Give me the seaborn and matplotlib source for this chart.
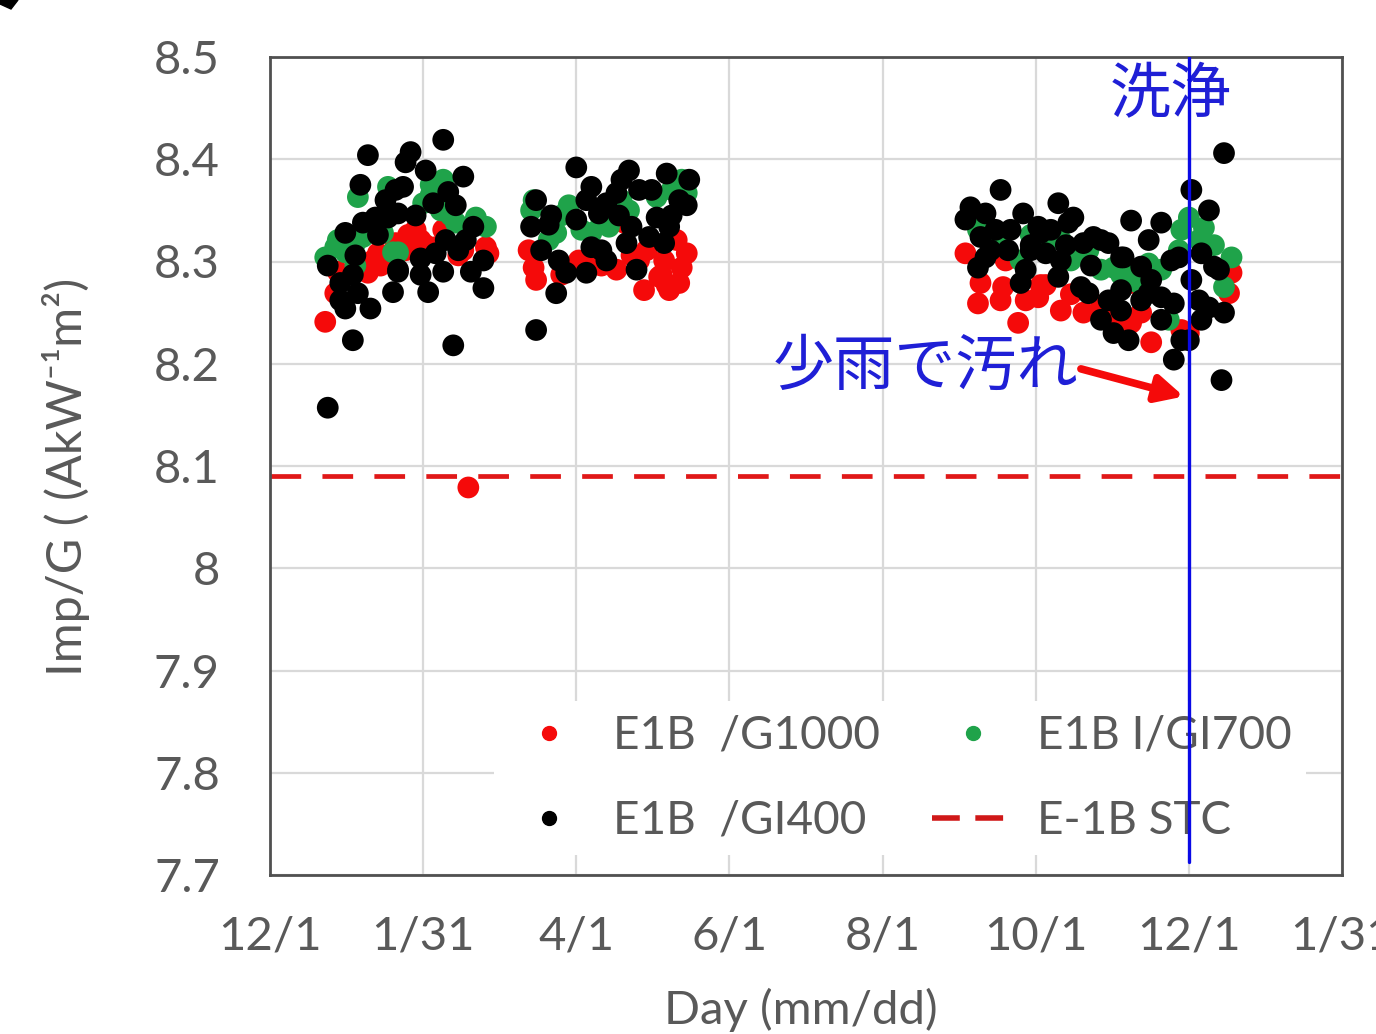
import pandas as pd
import numpy as np
import matplotlib
matplotlib.use("Agg")
import matplotlib.pyplot as plt
import seaborn as sns
from matplotlib.lines import Line2D

# day offsets are counted from 2019/12/1
start = pd.Timestamp("2019-12-01")

red_day = [22, 26, 27, 41, 39, 43, 55, 58, 69, 66, 77, 86, 87, 54, 79, 36, 50, 62, 75, 60, 44,
           105, 106, 123, 129, 103, 141, 150, 162, 166, 157, 138, 147, 149, 163, 155, 164, 116, 132, 159,
           156, 144, 158,
           277, 283, 282, 292, 301, 306, 298, 315, 293, 383, 382, 343, 324, 343, 351, 363, 366, 347, 309, 331,
           307, 319, 291, 335]
red_val = [8.241, 8.269, 8.290, 8.301, 8.289, 8.308, 8.326, 8.331, 8.331, 8.314, 8.311, 8.314, 8.308, 8.311, 8.079, 8.296, 8.318, 8.316, 8.306, 8.321, 8.296,
           8.294, 8.282, 8.301, 8.298, 8.311, 8.338, 8.311, 8.321, 8.308, 8.301, 8.292, 8.301, 8.272, 8.279, 8.285, 8.294, 8.287, 8.296, 8.272,
           8.287, 8.306, 8.277,
           8.308, 8.279, 8.259, 8.275, 8.262, 8.265, 8.240, 8.252, 8.301, 8.289, 8.269, 8.279, 8.250, 8.240, 8.221, 8.233, 8.230, 8.250, 8.277, 8.257,
           8.277, 8.268, 8.262, 8.243]

green_day = [35, 47, 26, 34, 37, 49, 22, 34, 45, 69, 61, 82, 86, 51, 74, 30, 68, 64, 27, 64, 72, 30,
             105, 119, 114, 111, 128, 164, 154, 143, 135, 166, 124, 132, 104, 116, 140, 160,
             282, 315, 299, 322, 366, 372, 370, 362, 350, 336, 331, 326, 355, 383, 380, 358, 346, 307, 291, 339,
             303, 319, 343, 376, 363, 285]
green_val = [8.363, 8.373, 8.314, 8.318, 8.324, 8.309, 8.304, 8.296, 8.328, 8.380, 8.357, 8.343, 8.334, 8.309, 8.338, 8.309, 8.350, 8.365, 8.321, 8.375, 8.345, 8.326,
             8.360, 8.355, 8.328, 8.321, 8.328, 8.380, 8.363, 8.350, 8.334, 8.367, 8.331, 8.340, 8.350, 8.345, 8.360, 8.370,
             8.331, 8.321, 8.301, 8.311, 8.343, 8.333, 8.321, 8.311, 8.298, 8.294, 8.292, 8.311, 8.292, 8.304, 8.275, 8.243, 8.279, 8.316, 8.321, 8.287,
             8.326, 8.301, 8.292, 8.316, 8.331, 8.336]

black_day = [39, 36, 50, 42, 47, 30, 43, 23, 33, 51, 35, 49, 30, 40, 33, 23, 69, 56, 54, 62,
             77, 53, 71, 65, 51, 81, 70, 66, 75, 85, 51, 60, 69, 80, 63, 85, 73, 28, 34,
             46, 58, 74, 78, 60, 37, 28,
             122, 128, 106, 112, 104, 122, 131, 108, 115, 118, 126, 114, 106, 128, 143, 158,
             138, 147, 134, 163, 154, 144, 159, 151, 132, 142, 157, 134, 146, 166, 167, 140,
             152, 139, 160, 126, 111,
             279, 291, 285, 277, 300, 295, 283, 314, 306, 285, 282, 294, 309, 318, 299, 314, 323, 324, 320, 343,
             355, 367, 374, 380, 350, 328, 334, 339, 347, 359, 371, 376, 301, 315, 326, 334, 339, 347, 355, 360,
             370, 380, 374, 331, 336, 342, 363, 360, 379, 331, 340, 362, 378, 350, 366, 307, 303, 289,
             311, 317, 327, 303, 287, 339, 351, 367, 371, 355]
black_val = [8.404, 8.375, 8.370, 8.343, 8.343, 8.328, 8.326, 8.296, 8.287, 8.292, 8.269, 8.270, 8.254, 8.254, 8.223, 8.157, 8.419, 8.407, 8.397, 8.389,
             8.383, 8.373, 8.368, 8.357, 8.347, 8.334, 8.321, 8.308, 8.311, 8.301, 8.290, 8.287, 8.290, 8.290, 8.270, 8.274, 8.218, 8.279, 8.306,
             8.360, 8.345, 8.355, 8.321, 8.303, 8.338, 8.262,
             8.392, 8.373, 8.360, 8.345, 8.334, 8.341, 8.347, 8.311, 8.301, 8.289, 8.289, 8.269, 8.233, 8.314, 8.389, 8.386,
             8.367, 8.370, 8.357, 8.360, 8.343, 8.334, 8.334, 8.324, 8.311, 8.318, 8.318, 8.301, 8.292, 8.355, 8.380, 8.380,
             8.370, 8.345, 8.345, 8.360, 8.336,
             8.353, 8.370, 8.347, 8.341, 8.347, 8.331, 8.324, 8.357, 8.334, 8.304, 8.294, 8.311, 8.308, 8.338, 8.279, 8.285, 8.275, 8.318, 8.343, 8.340,
             8.338, 8.370, 8.350, 8.406, 8.321, 8.324, 8.318, 8.304, 8.295, 8.301, 8.308, 8.295, 8.292, 8.301, 8.269, 8.262, 8.252, 8.262, 8.265, 8.259,
             8.262, 8.250, 8.255, 8.243, 8.230, 8.223, 8.223, 8.204, 8.184, 8.321, 8.304, 8.304, 8.292, 8.269, 8.223, 8.328, 8.316, 8.331,
             8.331, 8.316, 8.296, 8.311, 8.311, 8.272, 8.282, 8.282, 8.243, 8.243]

series_names = ["E1B  /G1000", "E1B I/GI700", "E1B  /GI400"]
series_colors = ["#f50a0a", "#1fa34a", "#000000"]
stc_name = "E-1B STC"
stc_value = 8.09
wash_day = 366

xtick_days = [0, 61, 122, 183, 244, 305, 366, 427]
xtick_labels = ["12/1", "1/31", "4/1", "6/1", "8/1", "10/1", "12/1", "1/31"]
ytick_vals = [7.7, 7.8, 7.9, 8.0, 8.1, 8.2, 8.3, 8.4, 8.5]
ytick_labels = ["7.7", "7.8", "7.9", "8", "8.1", "8.2", "8.3", "8.4", "8.5"]

def to_date(d):
    return start + pd.to_timedelta(d, unit="D")

df = pd.DataFrame({
    "date": to_date(np.array(red_day + green_day + black_day)),
    "value": red_val + green_val + black_val,
    "series": [series_names[0]] * len(red_day) + [series_names[1]] * len(green_day) + [series_names[2]] * len(black_day),
})

sns.set_style("whitegrid")
plt.rcParams["font.family"] = ["Lato", "Noto Sans CJK JP", "DejaVu Sans"]
gray = "#595959"

fig = plt.figure(figsize=(13.76, 10.34), dpi=100)
ax = fig.add_axes([270 / 1376, 159 / 1034, 1072 / 1376, 818 / 1034])

sns.scatterplot(data=df, x="date", y="value", hue="series", hue_order=series_names,
                palette=series_colors, s=245, linewidth=0, ax=ax, legend=False, zorder=2)

ax.axhline(stc_value, color="#e01818", lw=3.4, dashes=(6.5, 4.5), zorder=1.5)
ax.axvline(to_date(wash_day), ymin=0.016, ymax=1, color="#0a0ae6", lw=2.4, zorder=6)

ax.set_xlim(to_date(0), to_date(427))
ax.set_ylim(7.7, 8.5)
ax.set_xticks(to_date(np.array(xtick_days)))
ax.set_xticklabels(xtick_labels)
ax.set_yticks(ytick_vals)
ax.set_yticklabels(ytick_labels)
ax.tick_params(axis="x", length=0, pad=29, labelsize=34, labelcolor=gray)
ax.tick_params(axis="y", length=0, pad=36, labelsize=34, labelcolor=gray)
ax.grid(True, color="#d9d9d9", lw=1.6)
for sp in ax.spines.values():
    sp.set_color("#505050")
    sp.set_linewidth(2)

ax.set_xlabel("Day (mm/dd)", fontsize=34, color=gray)
ax.xaxis.set_label_coords(0.495, -0.138)
ax.set_ylabel("Imp/G ( (AkW⁻¹m²)", fontsize=35, color=gray)
ax.yaxis.set_label_coords(-0.168, 0.487)

ax.text(to_date(359), 8.462, "洗浄", color="#1f1fd6", fontsize=44, ha="center", va="center",
        family=["Noto Sans CJK JP"])
ax.text(to_date(261), 8.196, "少雨で汚れ", color="#1f1fd6", fontsize=44, ha="center", va="center",
        family=["Noto Sans CJK JP"])
ax.annotate("", xy=(to_date(364), 8.168), xytext=(to_date(323), 8.195),
            arrowprops=dict(arrowstyle="-|>", color="#f50a0a", lw=5.5, mutation_scale=40,
                            shrinkA=0, shrinkB=0), zorder=5)

handles = [
    Line2D([], [], marker="o", ls="none", color=series_colors[0], markersize=10, label=series_names[0]),
    Line2D([], [], marker="o", ls="none", color=series_colors[2], markersize=10, label=series_names[2]),
    Line2D([], [], marker="o", ls="none", color=series_colors[1], markersize=10, label=series_names[1]),
    Line2D([], [], color="#d01818", lw=4, dashes=(5, 2.8), label=stc_name),
]
leg = ax.legend(handles=handles, ncol=2, loc="lower right", bbox_to_anchor=(0.966, 0.024),
                borderaxespad=0, frameon=True, facecolor="white", edgecolor="none", framealpha=1,
                fancybox=False, fontsize=33, handlelength=1.8, handletextpad=0.5, columnspacing=1.13,
                labelspacing=0.93, borderpad=0.3, labelcolor=gray)

# corner fragment at the top left
fig.patches.append(plt.Polygon([[0, 1], [18 / 1376, 1], [11 / 1376, 1 - 9 / 1034], [0, 1 - 4 / 1034]],
                               closed=True, transform=fig.transFigure, color="black"))

fig.savefig("out.png", dpi=100)
